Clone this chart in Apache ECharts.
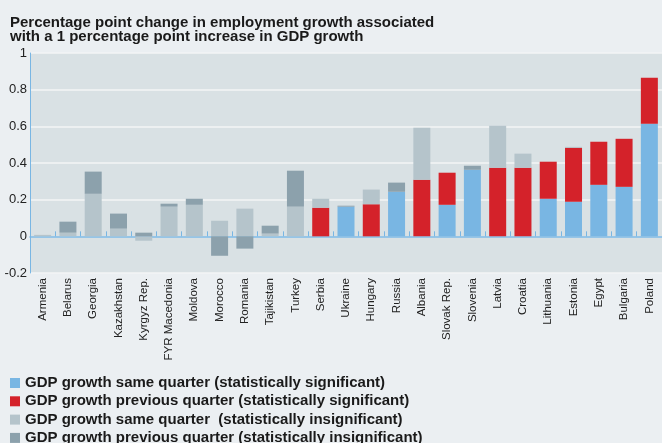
<!DOCTYPE html>
<html>
<head>
<meta charset="utf-8">
<script src="https://cdn.jsdelivr.net/npm/echarts@6/dist/echarts.min.js"></script>
<style>
html,body{margin:0;padding:0;background:#ebeff2;}
#chart{width:662px;height:443px;}
</style>
</head>
<body>
<div id="chart"></div>
<script>
const countries = ['Armenia','Belarus','Georgia','Kazakhstan','Kyrgyz Rep.','FYR Macedonia','Moldova','Morocco','Romania','Tajikistan','Turkey','Serbia','Ukraine','Hungary','Russia','Albania','Slovak Rep.','Slovenia','Latvia','Croatia','Lithuania','Estonia','Egypt','Bulgaria','Poland'];
// GDP growth same quarter (statistically significant)
const sameSig = [null,null,null,null,null,null,null,null,null,null,null,null,0.162,null,0.243,null,0.172,0.363,null,null,0.205,0.189,0.281,0.270,0.614];
// GDP growth previous quarter (statistically significant)
const prevSig = [null,null,null,null,null,null,null,null,null,null,null,0.156,null,0.175,null,0.309,0.175,null,0.374,0.374,0.202,0.294,0.235,0.262,0.251];
// GDP growth same quarter (statistically insignificant)
const sameInsig = [0.008,0.020,0.232,0.042,-0.024,0.162,0.172,0.085,0.151,0.015,0.162,0.049,null,0.080,null,0.283,null,null,0.229,0.077,null,0.005,null,null,null];
// GDP growth previous quarter (statistically insignificant)
const prevInsig = [null,0.060,0.121,0.082,0.020,0.016,0.033,-0.106,-0.067,0.043,0.196,null,0.005,null,0.050,null,null,0.022,null,null,null,null,null,null,null];
const seriesNames = ['GDP growth same quarter (statistically significant)','GDP growth previous quarter (statistically significant)','GDP growth same quarter  (statistically insignificant)','GDP growth previous quarter (statistically insignificant)'];
const yMin = -0.2, yMax = 1, yStep = 0.2;

const colors = ['#79b6e3','#d4222a','#b5c4cb','#8ca1ac'];
const axisBlue = '#79b6e3';
const font = 'Liberation Sans';

const chart = echarts.init(document.getElementById('chart'), null, {renderer:'canvas'});
const dataSets = [sameSig, prevSig, sameInsig, prevInsig];
chart.setOption({
  backgroundColor: '#ebeff2',
  animation: false,
  title: {
    text: 'Percentage point change in employment growth associated\nwith a 1 percentage point increase in GDP growth',
    left: 5, top: 11,
    textStyle: {fontFamily: font, fontSize: 15, fontWeight: 'bold', color: '#1a1a1a', lineHeight: 14}
  },
  legend: {
    orient: 'vertical', left: 10, top: 375, height: 200, padding: 0,
    itemWidth: 10, itemHeight: 10, itemGap: 2.3,
    icon: 'rect',
    textStyle: {fontFamily: font, fontSize: 15, fontWeight: 'bold', color: '#1a1a1a', lineHeight: 16},
    data: seriesNames
  },
  grid: {left: 30, right: -9, top: 53, bottom: 170, show: true, backgroundColor: '#d9e1e4', borderWidth: 0},
  xAxis: [{
    type: 'category', data: countries,
    axisLine: {onZero: true, lineStyle: {color: axisBlue, width: 1.5}},
    axisTick: {show: true, inside: true, length: 5, interval: 0, lineStyle: {color: axisBlue, width: 1}},
    axisLabel: {show: false},
    splitLine: {show: false}
  },{
    type: 'category', data: countries, position: 'bottom',
    axisLine: {show: false, onZero: false},
    axisTick: {show: false},
    axisLabel: {rotate: 90, fontFamily: font, fontSize: 11.5, color: '#222', margin: 5, interval: 0}
  }],
  yAxis: {
    type: 'value', min: yMin, max: yMax, interval: yStep,
    axisLine: {show: true, lineStyle: {color: axisBlue, width: 1}},
    axisTick: {show: false},
    axisLabel: {fontFamily: font, fontSize: 13, color: '#222', margin: 3,
      formatter: v => String(Math.round(v * 10) / 10)},
    splitLine: {show: true, lineStyle: {color: '#f3f5f6', width: 1.5}}
  },
  series: dataSets.map((d, i) => ({
    name: seriesNames[i], type: 'bar', stack: 'total', data: d,
    xAxisIndex: 0, barWidth: 17,
    itemStyle: {color: colors[i]}
  }))
});
</script>
</body>
</html>
